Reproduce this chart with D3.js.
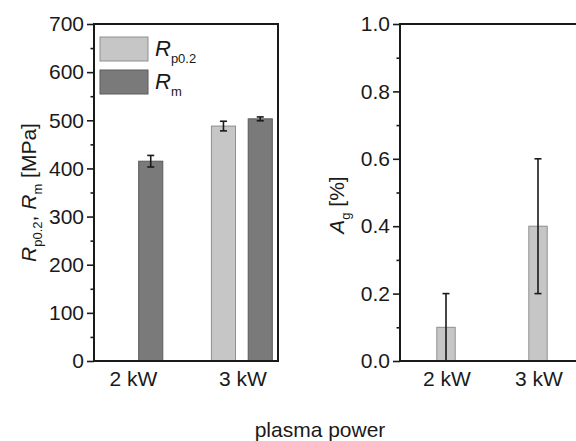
<!DOCTYPE html>
<html>
<head>
<meta charset="utf-8">
<script src="https://cdn.jsdelivr.net/npm/d3@7"></script>
<style>
  html, body { margin: 0; padding: 0; background: #fff; }
  text { font-family: "Liberation Sans", Arial, sans-serif; fill: #1a1a1a; }
</style>
</head>
<body>
<div id="chart"></div>
<script>
'use strict';

// ---- data ----
const categories = ['2 kW', '3 kW'];
const rp02 = [null, 488];
const rp02Err = [null, 10];
const rm = [415, 503];
const rmErr = [12, 4];
const ag = [0.1, 0.4];
const agErr = [0.1, 0.2];

const leftTicks = [0, 100, 200, 300, 400, 500, 600, 700];
const rightTicks = [0, 0.2, 0.4, 0.6, 0.8, 1.0];

const W = 576, H = 441;
const FS = 21;
const LIGHT = '#c6c6c6', LIGHT_EDGE = '#8f8f8f';
const DARK = '#7a7a7a', DARK_EDGE = '#5a5a5a';
const INK = '#1a1a1a';

const svg = d3.select('#chart').append('svg')
  .attr('width', W).attr('height', H);

const plotTop = 24, plotBottom = 361;

// ---- left panel ----
const xL = d3.scaleLinear().domain([0.65, 2.33]).range([94, 278]);
const yL = d3.scaleLinear().domain([0, 700]).range([plotBottom, plotTop]);
const gL = svg.append('g');

const half = 0.11, off = 0.168;
const series = [
  {vals: rp02, errs: rp02Err, dx: -off, fill: LIGHT, edge: LIGHT_EDGE},
  {vals: rm, errs: rmErr, dx: off, fill: DARK, edge: DARK_EDGE}
];

function drawErr(g, pts, xf, y, cap) {
  const eg = g.append('g').attr('stroke', INK).attr('stroke-width', 1.6);
  eg.selectAll(null).data(pts).join('line')
    .attr('x1', xf).attr('x2', xf)
    .attr('y1', d => y(d.v - d.e)).attr('y2', d => y(d.v + d.e));
  [1, -1].forEach(sg => {
    eg.selectAll(null).data(pts).join('line')
      .attr('x1', d => xf(d) - cap).attr('x2', d => xf(d) + cap)
      .attr('y1', d => y(d.v + sg * d.e)).attr('y2', d => y(d.v + sg * d.e));
  });
}

series.forEach(s => {
  const pts = categories.map((c, i) => ({i, v: s.vals[i], e: s.errs[i]}))
    .filter(d => d.v != null);
  gL.selectAll(null).data(pts).join('rect')
    .attr('x', d => xL(d.i + 1 + s.dx - half))
    .attr('width', d => xL(d.i + 1 + s.dx + half) - xL(d.i + 1 + s.dx - half))
    .attr('y', d => yL(d.v))
    .attr('height', d => yL(0) - yL(d.v))
    .attr('fill', s.fill).attr('stroke', s.edge).attr('stroke-width', 1);
  drawErr(gL, pts, d => xL(d.i + 1 + s.dx), yL, 3.5);
});

function drawAxes(g, x, y, ticks, minor, fmt, x0, x1) {
  // frame
  g.append('rect')
    .attr('x', x0).attr('y', plotTop).attr('width', x1 - x0).attr('height', plotBottom - plotTop)
    .attr('fill', 'none').attr('stroke', INK).attr('stroke-width', 2);
  const ax = g.append('g').attr('transform', `translate(${x0},0)`)
    .call(d3.axisLeft(y).tickValues(ticks).tickFormat(fmt).tickSize(7).tickPadding(3));
  ax.select('.domain').remove();
  ax.selectAll('line').attr('stroke', INK).attr('stroke-width', 1.6);
  ax.selectAll('text').attr('font-size', FS).attr('fill', INK)
    .attr('font-family', '"Liberation Sans", Arial, sans-serif');
  const mx = g.append('g').attr('transform', `translate(${x0},0)`)
    .call(d3.axisLeft(y).tickValues(minor).tickFormat('').tickSize(3.5));
  mx.select('.domain').remove();
  mx.selectAll('line').attr('stroke', INK).attr('stroke-width', 1.6);
  // category labels
  g.selectAll(null).data(categories).join('text')
    .attr('x', (d, i) => x(i + 1) + 1).attr('y', 386)
    .attr('text-anchor', 'middle').attr('font-size', FS)
    .text(d => d);
}

drawAxes(gL, xL, yL, leftTicks, leftTicks.slice(0, -1).map(v => v + 50),
  d3.format('d'), 94, 278);

// y label left
const ylab = gL.append('text')
  .attr('transform', `translate(36,${(plotTop + plotBottom) / 2}) rotate(-90)`)
  .attr('text-anchor', 'middle').attr('font-size', FS);
ylab.append('tspan').attr('font-style', 'italic').text('R');
ylab.append('tspan').attr('font-size', 13).attr('dy', 6).text('p0.2');
ylab.append('tspan').attr('dy', -6).text(', ');
ylab.append('tspan').attr('font-style', 'italic').text('R');
ylab.append('tspan').attr('font-size', 13).attr('dy', 6).text('m');
ylab.append('tspan').attr('dy', -6).text(' [MPa]');

// legend
const legend = [
  {name: 'R', sub: 'p0.2', fill: LIGHT, edge: LIGHT_EDGE},
  {name: 'R', sub: 'm', fill: DARK, edge: DARK_EDGE}
];
const lg = gL.append('g');
legend.forEach((d, i) => {
  const y0 = 37 + i * 33;
  lg.append('rect').attr('x', 100).attr('y', y0).attr('width', 48).attr('height', 24)
    .attr('fill', d.fill).attr('stroke', d.edge).attr('stroke-width', 1);
  const t = lg.append('text').attr('x', 155).attr('y', y0 + 19).attr('font-size', 22);
  t.append('tspan').attr('font-style', 'italic').text(d.name);
  t.append('tspan').attr('font-size', 13).attr('dy', 7).text(d.sub);
});

// ---- right panel ----
const xR = d3.scaleLinear().domain([0.5, 2.5]).range([400, 584]);
const yR = d3.scaleLinear().domain([0, 1]).range([plotBottom, plotTop]);
const gR = svg.append('g');
const agPts = categories.map((c, i) => ({i, v: ag[i], e: agErr[i]}));
const hw = 0.1;
gR.selectAll(null).data(agPts).join('rect')
  .attr('x', d => xR(d.i + 1 - hw))
  .attr('width', d => xR(d.i + 1 + hw) - xR(d.i + 1 - hw))
  .attr('y', d => yR(d.v))
  .attr('height', d => yR(0) - yR(d.v))
  .attr('fill', LIGHT).attr('stroke', LIGHT_EDGE).attr('stroke-width', 1);
drawErr(gR, agPts, d => xR(d.i + 1), yR, 3.5);

drawAxes(gR, xR, yR, rightTicks, rightTicks.slice(0, -1).map(v => v + 0.1),
  d3.format('.1f'), 400, 584);

const ylabR = gR.append('text')
  .attr('transform', `translate(344,205) rotate(-90)`)
  .attr('text-anchor', 'middle').attr('font-size', FS);
ylabR.append('tspan').attr('font-style', 'italic').text('A');
ylabR.append('tspan').attr('font-size', 13).attr('dy', 6).text('g');
ylabR.append('tspan').attr('dy', -6).text(' [%]');

// shared x label
svg.append('text').attr('x', 320).attr('y', 437)
  .attr('text-anchor', 'middle').attr('font-size', FS)
  .text('plasma power');
</script>
</body>
</html>
